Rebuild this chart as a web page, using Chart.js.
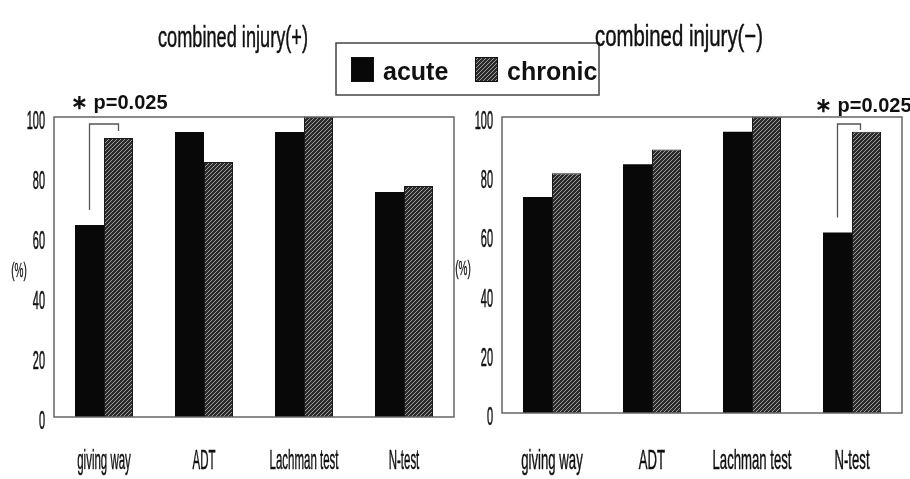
<!DOCTYPE html>
<html>
<head>
<meta charset="utf-8">
<script src="https://cdn.jsdelivr.net/npm/chart.js@4/dist/chart.umd.min.js"></script>
<style>
  html, body { margin: 0; padding: 0; background: #ffffff; }
  #wrap { position: relative; width: 910px; height: 479px; overflow: hidden; }
  canvas { position: absolute; top: 0; }
  #cPlus { left: 0; }
  #cMinus { left: 440px; }
</style>
</head>
<body>
<div id="wrap">
  <canvas id="cPlus" width="610" height="479"></canvas>
  <canvas id="cMinus" width="470" height="479"></canvas>
</div>
<script>
// Categories, series and tick labels
const categories = ['giving way', 'ADT', 'Lachman test', 'N-test'];
const seriesNames = ['acute', 'chronic'];
const yTicks = [0, 20, 40, 60, 80, 100];

// combined injury(+)
const plusAcute = [64, 95, 95, 75];
const plusChronic = [93, 85, 100, 77];

// combined injury(-)
const minusAcute = [73, 84, 95, 61];
const minusChronic = [81, 89, 100, 95];

const titles = ['combined injury(+)', 'combined injury(\u2212)'];
const yUnit = '(%)';
const pText = '\u2217 p=0.025';

const FONT = '"Liberation Sans", Arial, sans-serif';

// Diagonal hatch fill used for the "chronic" bars
function makeHatch() {
  const t = document.createElement('canvas');
  t.width = 4; t.height = 4;
  const g = t.getContext('2d');
  g.fillStyle = '#2c2c2c';
  g.fillRect(0, 0, 4, 4);
  g.fillStyle = '#9a9a9a';
  for (let i = 0; i < 4; i++) g.fillRect(i, 3 - i, 1, 1);
  return g.createPattern(t, 'repeat');
}
const hatch = makeHatch();

// Horizontally condensed text, slightly emboldened
function squeezeText(ctx, text, x, y, font, sx, align, weight) {
  ctx.save();
  ctx.font = font;
  ctx.textAlign = 'left';
  ctx.textBaseline = 'alphabetic';
  const w = ctx.measureText(text).width * sx;
  const x0 = align === 'center' ? x - w / 2 : align === 'right' ? x - w : x;
  ctx.translate(x0, y);
  ctx.scale(sx, 1);
  ctx.fillStyle = '#111';
  ctx.strokeStyle = '#111';
  ctx.lineWidth = weight || 0.5;
  ctx.lineJoin = 'round';
  ctx.fillText(text, 0, 0);
  ctx.strokeText(text, 0, 0);
  ctx.restore();
}
function fitText(ctx, text, cx, y, font, width, weight) {
  ctx.save();
  ctx.font = font;
  const m = ctx.measureText(text).width;
  ctx.restore();
  squeezeText(ctx, text, cx, y, font, width / m, 'center', weight);
}

// Frame, axis labels, title, significance bracket (and legend on the first panel)
function panelPlugin(cfg) {
  return {
    id: 'panel',
    afterDatasetsDraw(chart) {
      const ctx = chart.ctx;
      const a = chart.chartArea;
      const xs = chart.scales.x, ys = chart.scales.y;

      // frame
      ctx.save();
      ctx.strokeStyle = '#666';
      ctx.lineWidth = 1.5;
      ctx.strokeRect(a.left, a.top, a.right - a.left, a.bottom - a.top);
      ctx.restore();

      // y tick labels
      yTicks.forEach(v => {
        const py = ys.getPixelForValue(v);
        squeezeText(ctx, String(v), a.left - 9, py + 12, '26px ' + FONT, 0.42, 'right', 0.6);
      });
      // unit
      squeezeText(ctx, yUnit, cfg.unitX, (a.top + a.bottom) / 2 + 10, '20px ' + FONT, 0.5, 'center', 0.3);

      // category labels
      categories.forEach((c, i) => {
        squeezeText(ctx, c, xs.getPixelForValue(i), 469, '28px ' + FONT, cfg.catSx, 'center', 0.5);
      });

      // title
      fitText(ctx, cfg.title, cfg.titleX, cfg.titleY, '30px ' + FONT, cfg.titleW, 0.5);

      // significance bracket
      const mA = chart.getDatasetMeta(0).data[cfg.sigIndex];
      const mC = chart.getDatasetMeta(1).data[cfg.sigIndex];
      const topY = a.top + 7;
      ctx.save();
      ctx.strokeStyle = '#555';
      ctx.lineWidth = 1.3;
      ctx.beginPath();
      ctx.moveTo(mA.x, mA.y - 15);
      ctx.lineTo(mA.x, topY);
      ctx.lineTo(mC.x + cfg.bracketShift, topY);
      ctx.lineTo(mC.x + cfg.bracketShift, Math.max(mC.y - 7, topY + 6));
      ctx.stroke();
      ctx.restore();

      ctx.save();
      ctx.font = 'bold 20px ' + FONT;
      ctx.fillStyle = '#111';
      ctx.textBaseline = 'alphabetic';
      ctx.textAlign = 'left';
      ctx.fillText(pText, cfg.pX, cfg.pY);
      ctx.restore();

      // legend box
      if (cfg.legend) {
        const L = cfg.legend;
        ctx.save();
        ctx.fillStyle = '#fff';
        ctx.fillRect(L.x, L.y, L.w, L.h);
        ctx.strokeStyle = '#444';
        ctx.lineWidth = 1.5;
        ctx.strokeRect(L.x, L.y, L.w, L.h);
        ctx.font = 'bold 25px ' + FONT;
        ctx.textBaseline = 'alphabetic';
        chart.data.datasets.forEach((ds, i) => {
          const sx = L.items[i];
          ctx.fillStyle = ds.backgroundColor;
          ctx.fillRect(sx, L.y + 14, 23, 25);
          ctx.strokeStyle = '#111';
          ctx.lineWidth = 1;
          ctx.strokeRect(sx + 0.5, L.y + 14.5, 22, 24);
          ctx.fillStyle = '#111';
          ctx.fillText(ds.label, sx + 32, L.y + 37);
        });
        ctx.restore();
      }
    }
  };
}

function makeChart(id, acute, chronic, padding, cfg) {
  return new Chart(document.getElementById(id), {
    type: 'bar',
    data: {
      labels: categories,
      datasets: [
        { label: seriesNames[0], data: acute, backgroundColor: '#080808',
          borderColor: '#080808', borderWidth: 0 },
        { label: seriesNames[1], data: chronic, backgroundColor: hatch,
          borderColor: '#1a1a1a', borderWidth: 1 }
      ]
    },
    options: {
      responsive: false,
      animation: false,
      devicePixelRatio: 1,
      layout: { padding: padding },
      datasets: { bar: { categoryPercentage: 0.58, barPercentage: 1.0 } },
      scales: {
        x: { display: false },
        y: { display: false, min: 0, max: 100 }
      },
      plugins: { legend: { display: false }, tooltip: { enabled: false } }
    },
    plugins: [panelPlugin(cfg)]
  });
}

makeChart('cPlus', plusAcute, plusChronic,
  { left: 54, right: 156, top: 117, bottom: 62 },
  { title: titles[0], titleX: 233, titleY: 47, titleW: 150, catSx: 0.41,
    unitX: 19, sigIndex: 0, bracketShift: 0, pX: 71, pY: 109,
    legend: { x: 336, y: 43, w: 263, h: 52, items: [351, 475] } });

makeChart('cMinus', minusAcute, minusChronic,
  { left: 62, right: 8, top: 117, bottom: 66 },
  { title: titles[1], titleX: 239, titleY: 46, titleW: 168, catSx: 0.47,
    unitX: 23, sigIndex: 3, bracketShift: -6, pX: 375, pY: 112 });
</script>
</body>
</html>
